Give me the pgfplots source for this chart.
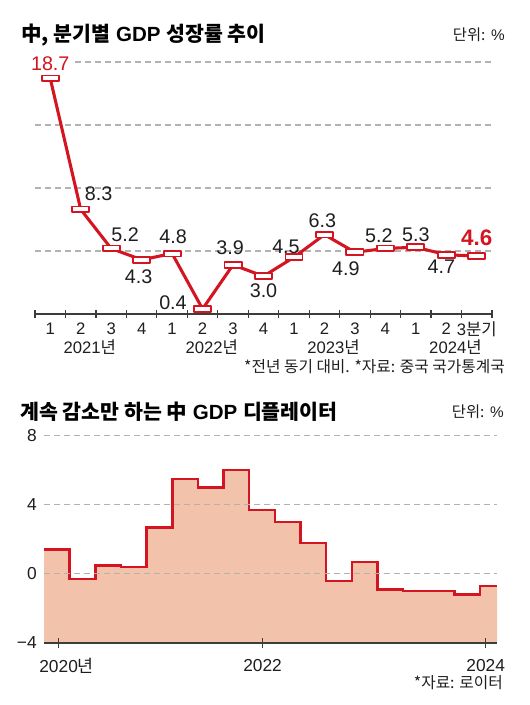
\documentclass[border=0pt]{standalone}
\usepackage{pgfplots}
\pgfplotsset{compat=1.18}
\usepackage{fontspec}
\setmainfont{Liberation Sans}
\newfontfamily\kr{Noto Sans CJK KR}
\definecolor{cred}{RGB}{212,20,32}
\definecolor{cfill}{RGB}{242,194,170}
\definecolor{cgrid}{RGB}{178,178,178}
\definecolor{caxis}{RGB}{60,60,60}
\definecolor{ctext}{RGB}{30,30,30}
\pgfdeclareplotmark{wrect}{%
  \pgfpathrectangle{\pgfpoint{-6.4pt}{-2.2pt}}{\pgfpoint{12.8pt}{4.4pt}}%
  \pgfusepathqfillstroke}
\begin{document}
\begin{tikzpicture}[x=0.75pt,y=0.75pt]
\useasboundingbox (0,0) rectangle (530,705);
\coordinate (TA) at (35,391);
\coordinate (BA) at (44,62);
% titles and notes
\node[anchor=west, inner sep=0pt, font=\fontsize{15.4}{18}\selectfont\bfseries, text=black] at (21,670) {{\kr 中, 분기별} GDP {\kr 성장률 추이}};
\node[anchor=east, inner sep=0pt, font=\fontsize{11.5}{13}\selectfont, text=ctext] at (505,670) {{\kr 단위:} \%};
\node[anchor=east, inner sep=0pt, font=\fontsize{11.8}{13}\selectfont, text=ctext] at (505,338) {{\kr *전년 동기 대비. *자료: 중국 국가통계국}};
\node[anchor=west, inner sep=0pt, font=\fontsize{15.4}{18}\selectfont\bfseries, text=black] at (20,293) {{\kr 계속 감소만 하는 中} GDP {\kr 디플레이터}};
\node[anchor=east, inner sep=0pt, font=\fontsize{11.5}{13}\selectfont, text=ctext] at (504,293) {{\kr 단위:} \%};
\node[anchor=east, inner sep=0pt, font=\fontsize{11.8}{13}\selectfont, text=ctext] at (503,22) {{\kr *자료: 로이터}};

% ---------- top chart ----------
\begin{axis}[at={(TA)}, anchor=south west, scale only axis,
  width=342.75pt, height=189pt,
  xmin=-0.5, xmax=14.5, ymin=0, ymax=20,
  axis lines*=left, y axis line style={draw=none},
  x axis line style={draw=caxis, line width=1.1pt},
  xtick={0,...,14},
  xticklabels={1,2,3,4,1,2,3,4,1,2,3,4,1,2,{3{\kr 분기}}},
  minor xtick={-0.5,0.5,...,14.5},
  major tick length=0pt, minor tick length=5.5pt, tick align=center,
  minor tick style={draw=caxis, line width=0.9pt},
  ytick={5,10,15,20}, yticklabels={},
  ymajorgrids, grid style={cgrid, dash pattern=on 4.5pt off 3pt, line width=0.8pt},
  xticklabel style={font=\fontsize{12.5}{14}\selectfont, text=ctext, anchor=center, yshift=-11.25pt},
  clip=false,
]
\addplot[cred, line width=2.3pt, line join=round, mark=wrect,
  mark options={solid, fill=white, draw=cred, line width=1.4pt}]
  coordinates {(0,18.7)(1,8.3)(2,5.2)(3,4.3)(4,4.8)(5,0.4)(6,3.9)(7,3.0)
               (8,4.5)(9,6.3)(10,4.9)(11,5.2)(12,5.3)(13,4.7)(14,4.6)};
\node[font=\fontsize{14.8}{16}\selectfont, text=cred, fill=white, inner sep=1pt] at (axis cs:0,18.7) [yshift=10.9pt] {18.7};
\node[font=\fontsize{14.8}{16}\selectfont, text=ctext, inner sep=0pt] at (axis cs:1,8.3) [xshift=13.5pt, yshift=12pt] {8.3};
\node[font=\fontsize{14.8}{16}\selectfont, text=ctext, inner sep=0pt] at (axis cs:2,5.2) [xshift=10.5pt, yshift=10.5pt] {5.2};
\node[font=\fontsize{14.8}{16}\selectfont, text=ctext, inner sep=0pt] at (axis cs:3,4.3) [xshift=-2.25pt, yshift=-12.5pt] {4.3};
\node[font=\fontsize{14.8}{16}\selectfont, text=ctext, inner sep=0pt] at (axis cs:4,4.8) [xshift=0.75pt, yshift=12.75pt] {4.8};
\node[font=\fontsize{14.8}{16}\selectfont, text=ctext, inner sep=0pt] at (axis cs:5,0.4) [xshift=-22.2pt, yshift=4.8pt] {0.4};
\node[font=\fontsize{14.8}{16}\selectfont, text=ctext, inner sep=0pt] at (axis cs:6,3.9) [xshift=-2.25pt, yshift=13pt] {3.9};
\node[font=\fontsize{14.8}{16}\selectfont, text=ctext, inner sep=0pt] at (axis cs:7,3.0) [yshift=-10.8pt] {3.0};
\node[font=\fontsize{14.8}{16}\selectfont, text=ctext, inner sep=0pt] at (axis cs:8,4.5) [xshift=-6pt, yshift=7.8pt] {4.5};
\node[font=\fontsize{14.8}{16}\selectfont, text=ctext, inner sep=0pt] at (axis cs:9,6.3) [xshift=-1.5pt, yshift=10.5pt] {6.3};
\node[font=\fontsize{14.8}{16}\selectfont, text=ctext, inner sep=0pt] at (axis cs:10,4.9) [xshift=-6.75pt, yshift=-12pt] {4.9};
\node[font=\fontsize{14.8}{16}\selectfont, text=ctext, inner sep=0pt] at (axis cs:11,5.2) [xshift=-4.9pt, yshift=9.6pt] {5.2};
\node[font=\fontsize{14.8}{16}\selectfont, text=ctext, inner sep=0pt] at (axis cs:12,5.3) [yshift=9.6pt] {5.3};
\node[font=\fontsize{14.8}{16}\selectfont, text=ctext, inner sep=0pt] at (axis cs:13,4.7) [xshift=-3.75pt, yshift=-8.6pt] {4.7};
\node[font=\fontsize{16.8}{18}\selectfont\bfseries, text=cred, inner sep=0pt] at (axis cs:14,4.6) [yshift=13.5pt] {4.6};
% year labels
\node[font=\fontsize{12.5}{14}\selectfont, text=ctext, inner sep=0pt] at (axis cs:1.3,0) [yshift=-24.5pt] {2021{\kr 년}};
\node[font=\fontsize{12.5}{14}\selectfont, text=ctext, inner sep=0pt] at (axis cs:5.3,0) [yshift=-24.5pt] {2022{\kr 년}};
\node[font=\fontsize{12.5}{14}\selectfont, text=ctext, inner sep=0pt] at (axis cs:9.3,0) [yshift=-24.5pt] {2023{\kr 년}};
\node[font=\fontsize{12.5}{14}\selectfont, text=ctext, inner sep=0pt] at (axis cs:13.3,0) [yshift=-24.5pt] {2024{\kr 년}};
\end{axis}

% ---------- bottom chart ----------
\begin{axis}[at={(BA)}, anchor=south west, scale only axis,
  width=339.75pt, height=155.5pt,
  xmin=0, xmax=17.66, ymin=-4, ymax=8,
  axis on top,
  axis lines*=left, y axis line style={draw=none},
  x axis line style={draw=caxis, line width=1.1pt},
  xtick={0.57,8.52,17.22},
  xticklabels={{2020\rlap{\kr 년}},2022,2024},
  tick align=center, major tick length=7.5pt,
  xtick style={draw=caxis, line width=0.9pt},
  ytick={-4,0,4,8}, yticklabels={−4,0,4,8},
  ytick style={draw=none},
  ymajorgrids, grid style={cgrid, dash pattern=on 4.5pt off 3pt, line width=0.8pt},
  xticklabel style={font=\fontsize{13}{14}\selectfont, text=ctext, anchor=center, yshift=-13.5pt},
  yticklabel style={font=\fontsize{13}{14}\selectfont, text=ctext, anchor=east, inner sep=0pt, xshift=-1.5pt},
  clip=false,
]
\addplot[const plot, fill=cfill, draw=none] coordinates {
  (0,-4)(0,1.4)(1,-0.3)(2,0.5)(3,0.4)(4,2.7)(5,5.5)(6,5.0)(7,6.0)(8,3.7)
  (9,3.0)(10,1.8)(11,-0.4)(12,0.7)(13,-0.9)(14,-1.0)(15,-1.0)(16,-1.2)
  (17,-0.7)(17.66,-0.7)(17.66,-4)} -- cycle;
\addplot[const plot, draw=cred, line width=1.9pt] coordinates {
  (0,1.4)(1,-0.3)(2,0.5)(3,0.4)(4,2.7)(5,5.5)(6,5.0)(7,6.0)(8,3.7)
  (9,3.0)(10,1.8)(11,-0.4)(12,0.7)(13,-0.9)(14,-1.0)(15,-1.0)(16,-1.2)
  (17,-0.7)(17.66,-0.7)};
\end{axis}
\end{tikzpicture}
\end{document}
